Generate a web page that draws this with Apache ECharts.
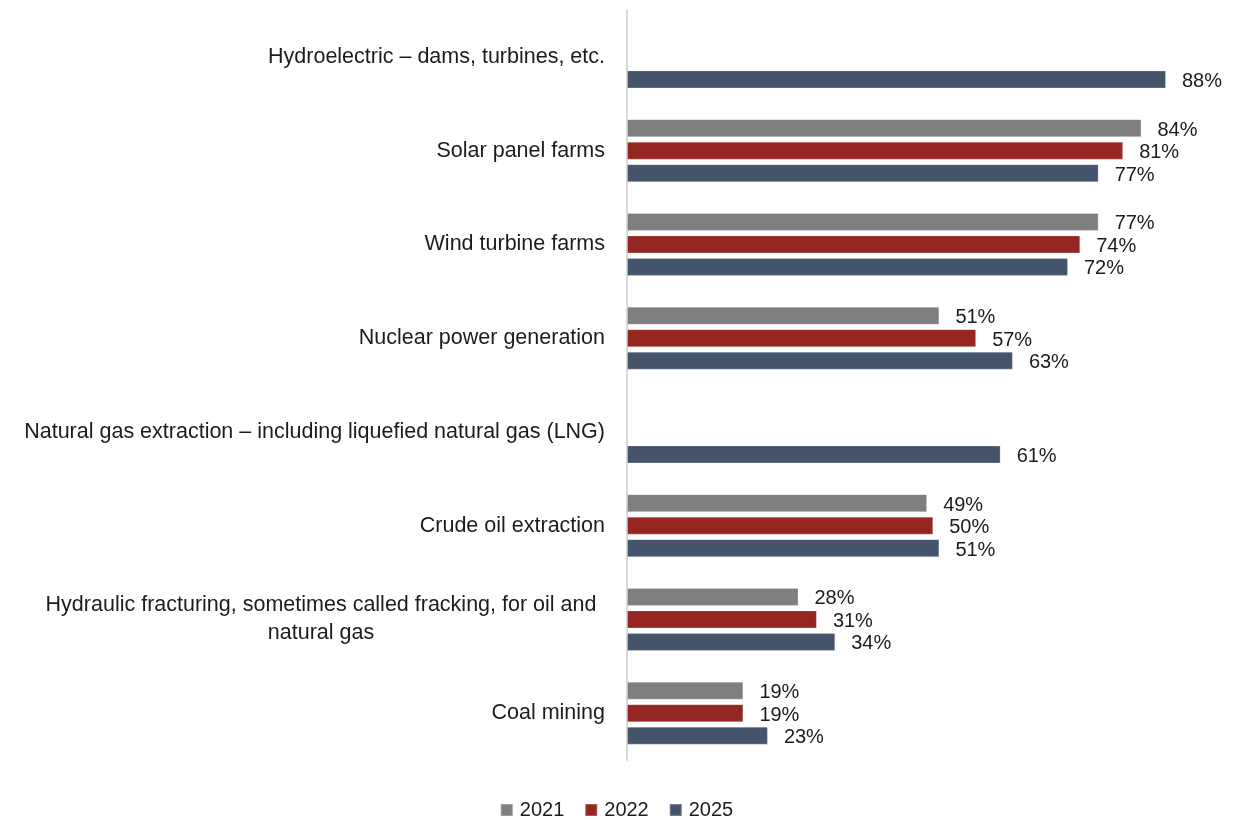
<!DOCTYPE html>
<html>
<head>
<meta charset="utf-8">
<script src="https://cdn.jsdelivr.net/npm/echarts@6/dist/echarts.min.js"></script>
<style>
  html, body { margin: 0; padding: 0; background: #ffffff; }
  #chart { width: 1233px; height: 820px; }
</style>
</head>
<body>
<div id="chart"></div>
<script>
// Energy sources, listed top to bottom
const categories = [
  'Hydroelectric – dams, turbines, etc.',
  'Solar panel farms',
  'Wind turbine farms',
  'Nuclear power generation',
  'Natural gas extraction – including liquefied natural gas (LNG)',
  'Crude oil extraction',
  'Hydraulic fracturing, sometimes called fracking, for oil and natural gas',
  'Coal mining'
];
const seriesNames = ['2021', '2022', '2025'];
const values2021 = [null, 84, 77, 51, null, 49, 28, 19];
const values2022 = [null, 81, 74, 57, null, 50, 31, 19];
const values2025 = [88, 77, 72, 63, 61, 51, 34, 23];
const colors = ['#7f7f7f', '#952622', '#44546a'];

const FONT = '"Liberation Sans", Arial, sans-serif';
const TEXT = '#1c1c1c';

const chart = echarts.init(document.getElementById('chart'), null, { renderer: 'canvas' });

chart.setOption({
  backgroundColor: '#ffffff',
  animation: false,
  textStyle: { fontFamily: FONT },
  grid: { left: 627, top: 10, bottom: 60, right: 54.75, containLabel: false },
  legend: {
    top: 795,
    left: 'center',
    itemWidth: 12,
    itemHeight: 12,
    itemGap: 20,
    icon: 'rect',
    textStyle: { fontSize: 20, color: TEXT, fontFamily: FONT, padding: [0, 0, 0, 2] },
    data: seriesNames
  },
  xAxis: {
    type: 'value',
    min: 0,
    max: 90,
    show: false
  },
  yAxis: {
    type: 'category',
    data: categories,
    inverse: true,
    axisLine: { show: true, lineStyle: { color: '#d9d9d9', width: 2 } },
    axisTick: { show: false },
    axisLabel: {
      fontSize: 21.5,
      color: TEXT,
      fontFamily: FONT,
      margin: 22,
      formatter: function (v) {
        if (v.indexOf('Hydraulic fracturing') === 0) {
          return '{c|Hydraulic fracturing, sometimes called fracking, for oil and}\n{c|natural gas}';
        }
        return v;
      },
      rich: {
        c: { width: 568, align: 'center', fontSize: 21.5, lineHeight: 28, color: TEXT, fontFamily: FONT }
      }
    }
  },
  series: seriesNames.map((name, i) => ({
    name: name,
    type: 'bar',
    data: [values2021, values2022, values2025][i],
    barWidth: 18,
    barGap: '25%',
    barCategoryGap: '33%',
    itemStyle: { color: colors[i], borderColor: 'rgba(255,255,255,0.25)', borderWidth: 1 },
    label: {
      show: true,
      position: 'right',
      distance: 16,
      offset: [0, 2],
      formatter: p => (p.value == null ? '' : p.value + '%'),
      fontSize: 20,
      color: TEXT,
      fontFamily: FONT
    }
  }))
});
</script>
</body>
</html>
